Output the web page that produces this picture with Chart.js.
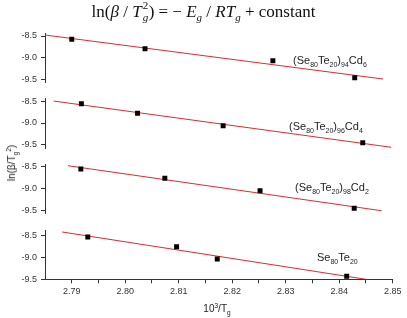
<!DOCTYPE html>
<html>
<head>
<meta charset="utf-8">
<script src="https://cdn.jsdelivr.net/npm/chart.js@4.4.1/dist/chart.umd.min.js"></script>
<style>
  body { margin: 0; background: #fff; }
  #wrap { position: relative; width: 407px; height: 318px; overflow: hidden;
          font-family: "Liberation Sans", Arial, sans-serif; color: #222; }
  canvas { position: absolute; left: 0; top: 0; }
  .txt { position: absolute; white-space: nowrap; line-height: 11px; }
  .lbl { font-size: 11px; }
  .lbl sub { font-size: 7px; vertical-align: -3px; line-height: 0; }
  #eq { position: absolute; left: 0; top: 2px; width: 407px; text-align: center;
        font-family: "Liberation Serif", "DejaVu Serif", serif; font-size: 17px; line-height: 20px; color: #111; }
  #eq sub { font-size: 11px; line-height: 0; }
  .ss { position: relative; display: inline-block; width: 7px; }
  .ss span { position: absolute; left: 1px; font-size: 11px; line-height: 11px; }
  .ss .sp { top: -17px; }
  .ss .sb { top: -5px; font-style: italic; }
  #ytitle { position: absolute; left: 12px; top: 163px; font-size: 10px; line-height: 12px;
            transform: translate(-50%, -50%) rotate(-90deg); white-space: nowrap; }
  #ytitle sub, #xtitle sub { font-size: 6.5px; vertical-align: -3px; line-height: 0; }
  #ytitle sup, #xtitle sup { font-size: 6.5px; vertical-align: 4px; line-height: 0; }
  #xtitle { position: absolute; left: 217px; top: 309px; font-size: 10px; line-height: 12px;
            transform: translate(-50%, -50%); white-space: nowrap; }
</style>
</head>
<body>
<div id="wrap">
  <canvas id="p1" width="407" height="318"></canvas>
  <canvas id="p2" width="407" height="318"></canvas>
  <canvas id="p3" width="407" height="318"></canvas>
  <canvas id="p4" width="407" height="318"></canvas>

  <div id="eq">ln(<i>β</i> / <i>T</i><span class="ss"><span class="sp">2</span><span class="sb">g</span></span>) = − <i>E</i><sub><i>g</i></sub> / <i>RT</i><sub><i>g</i></sub> + constant</div>

  <div class="txt lbl" style="left:293px; top:55px">(Se<sub>80</sub>Te<sub>20</sub>)<sub>94</sub>Cd<sub>6</sub></div>
  <div class="txt lbl" style="left:289px; top:121px">(Se<sub>80</sub>Te<sub>20</sub>)<sub>96</sub>Cd<sub>4</sub></div>
  <div class="txt lbl" style="left:295px; top:182px">(Se<sub>80</sub>Te<sub>20</sub>)<sub>98</sub>Cd<sub>2</sub></div>
  <div class="txt lbl" style="left:317px; top:252px">Se<sub>80</sub>Te<sub>20</sub></div>

  <div id="ytitle">ln(β/T<sub>g</sub><sup>2</sup>)</div>
  <div id="xtitle">10<sup>3</sup>/T<sub>g</sub></div>
</div>
<script>
const xMin = 2.785;
const xMax = 2.85;
const xMajorTicks = [2.79, 2.80, 2.81, 2.82, 2.83, 2.84, 2.85];
const xMinorTicks = [2.795, 2.805, 2.815, 2.825, 2.835, 2.845];
const yTicks = [-9.5, -9.0, -8.5];

// (Se80Te20)94Cd6
const cd6X = [2.7900, 2.8037, 2.8276, 2.8429];
const cd6Y = [-8.576, -8.793, -9.070, -9.463];
const cd6FitX = [2.7850, 2.8482];
const cd6FitY = [-8.477, -9.493];

// (Se80Te20)96Cd4
const cd4X = [2.7918, 2.8023, 2.8183, 2.8444];
const cd4Y = [-8.561, -8.780, -9.061, -9.448];
const cd4FitX = [2.7866, 2.8497];
const cd4FitY = [-8.500, -9.552];

// (Se80Te20)98Cd2
const cd2X = [2.7917, 2.8074, 2.8252, 2.8428];
const cd2Y = [-8.553, -8.768, -9.054, -9.461];
const cd2FitX = [2.7893, 2.8479];
const cd2FitY = [-8.477, -9.516];

// Se80Te20
const cd0X = [2.7930, 2.8096, 2.8172, 2.8414];
const cd0Y = [-8.539, -8.759, -9.039, -9.432];
const cd0FitX = [2.7882, 2.8450];
const cd0FitY = [-8.425, -9.500];

Chart.defaults.font.family = '"Liberation Sans", Arial, sans-serif';
Chart.defaults.color = "#333";

const axisColor = "#333";
const fitColor = "#e8262b";

function makePanel(canvasId, ptsX, ptsY, fitX, fitY, box, showX) {
  const pts = ptsX.map((x, i) => ({ x: x, y: ptsY[i] }));
  const fit = fitX.map((x, i) => ({ x: x, y: fitY[i] }));
  const xHeight = showX ? 30 : 0;

  new Chart(document.getElementById(canvasId), {
    type: "scatter",
    data: {
      datasets: [
        {
          data: pts,
          pointStyle: "rect",
          pointRadius: 3.5,
          backgroundColor: "#000",
          borderColor: "#000",
          borderWidth: 0,
        },
        {
          data: fit,
          showLine: true,
          pointRadius: 0,
          borderColor: fitColor,
          borderWidth: 1,
        },
      ],
    },
    options: {
      responsive: false,
      animation: false,
      events: [],
      layout: {
        padding: { top: box.top, bottom: 318 - box.bottom - xHeight, left: 0, right: 14.3 },
      },
      plugins: { legend: { display: false }, tooltip: { enabled: false } },
      scales: {
        x: {
          type: "linear",
          min: xMin,
          max: xMax,
          display: showX,
          afterFit: (s) => { s.height = xHeight; },
          afterBuildTicks: (s) => {
            s.ticks = xMajorTicks.concat(xMinorTicks)
              .sort((a, b) => a - b)
              .map((v) => ({ value: v }));
          },
          ticks: {
            autoSkip: false,
            maxRotation: 0,
            padding: 3,
            font: { size: 9 },
            color: "#333",
            callback: (v) => (xMajorTicks.includes(v) ? v.toFixed(2) : ""),
          },
          grid: { drawOnChartArea: false, tickLength: 4, color: axisColor },
          border: { color: axisColor },
        },
        y: {
          type: "linear",
          min: box.min,
          max: box.max,
          afterFit: (s) => { s.width = 45; },
          afterBuildTicks: (s) => {
            s.ticks = yTicks.map((v) => ({ value: v }));
          },
          ticks: {
            padding: 4,
            font: { size: 9 },
            color: "#333",
            callback: (v) => v.toFixed(1),
          },
          grid: { drawOnChartArea: false, tickLength: 4, color: axisColor },
          border: { color: axisColor },
        },
      },
    },
  });
}

makePanel("p1", cd6X, cd6Y, cd6FitX, cd6FitY, { top: 33.4, bottom: 82.8, min: -9.58, max: -8.44 }, false);
makePanel("p2", cd4X, cd4Y, cd4FitX, cd4FitY, { top: 98.4, bottom: 148.5, min: -9.58, max: -8.44 }, false);
makePanel("p3", cd2X, cd2Y, cd2FitX, cd2FitY, { top: 164.1, bottom: 213.5, min: -9.58, max: -8.44 }, false);
makePanel("p4", cd0X, cd0Y, cd0FitX, cd0FitY, { top: 230, bottom: 279.3, min: -9.5, max: -8.38 }, true);
</script>
</body>
</html>
